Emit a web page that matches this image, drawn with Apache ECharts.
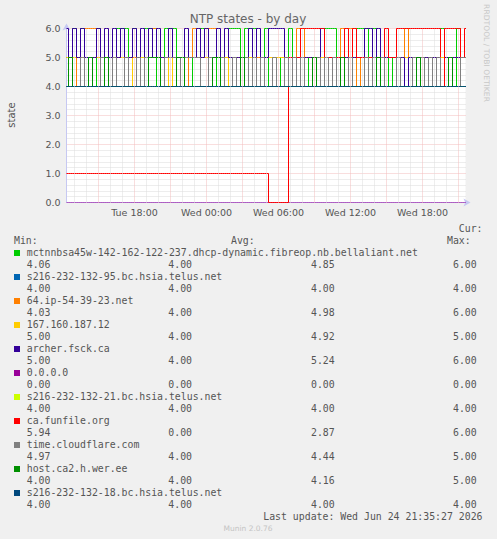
<!DOCTYPE html>
<html><head><meta charset="utf-8">
<script src="https://cdn.jsdelivr.net/npm/echarts@6/dist/echarts.min.js"></script>
<style>html,body{margin:0;padding:0;background:#f0f0f0}#c{width:497px;height:539px}</style>
</head><body><div id="c"></div>
<script>
// ---- time grid (hours since Tue 00:00), one sample every 20 minutes from Tue 12:20 ----
const times = [];
for (let i = 0; i <= 100; i++) times.push(12 + 1/3 + i/3);
const X_MIN = 12 + 1/3;            // Tue 12:20
const X_MAX = 12 + 1/3 + 33.25;    // Wed 21:35
const labelHours = [18, 24, 30, 36, 42];
const minorHours = [13,14,16,17,19,20,22,23,25,26,28,29,31,32,34,35,37,38,40,41,43,44];
const majorHours = [15,18,21,24,27,30,33,36,39,42,45];

// ---- series values (state) ----
const mctnnbsa = [
 5,4,6,4,6,4,5,4,6,5, 4,4,4,6,6,6,5,6,4,5, 6,6,6,4,5,6,6,6,4,5, 4,5,4,4,6,6,4,5,4,5,
 4,6,6,6,4,6,6,6,4,4, 6,4,5,4,5,4,6,4,5,4, 4,5,4,5,4,6,6,6,4,4, 4,5,4,6,6,6,4,6,4,4,
 5,4,5,4,5,4,4,4,5,4, 4,5,4,5,6,4,4,4,6,4, 4];
const s216_95 = [
 4,4,4,4,4,4,4,4,4,4, 4,4,4,4,4,4,4,4,4,4, 4,4,4,4,4,4,4,4,4,4, 4,4,4,4,4,4,4,4,4,4,
 4,4,4,4,4,4,4,4,4,4, 4,4,4,4,4,4,4,4,4,4, 4,4,4,4,4,4,4,4,4,4, 4,4,4,4,4,4,4,4,4,4,
 4,4,4,4,4,4,4,4,4,4, 4,4,4,4,4,4,4,4,4,4, 4];
const ip64 = [
 5,5,4,5,5,6,6,6,5,5, 4,5,5,5,5,4,5,5,5,4, 5,5,6,5,5,4,5,5,5,5, 4,5,6,6,5,6,6,6,5,4,
 5,5,5,5,4,5,5,5,5,4, 5,5,5,5,5,5,4,5,6,6, 5,5,5,4,5,5,5,5,4,6, 6,6,6,4,5,5,5,5,5,4,
 5,5,5,5,4,6,5,5,5,5, 5,4,5,5,5,5,5,5,5,4, 4];
const ip167 = [
 5,5,5,5,5,4,5,5,5,5, 5,4,5,5,5,5,5,4,5,5, 5,5,5,5,5,5,4,5,5,5, 5,5,5,5,5,5,5,5,5,5,
 5,4,5,5,5,5,5,5,4,5, 5,5,5,5,5,5,5,5,5,4, 5,5,5,5,5,5,5,5,5,5, 5,5,5,5,5,5,5,5,5,5,
 5,5,5,5,5,5,4,5,5,5, 5,5,5,5,5,5,5,5,5,5, 5];
const archer = [
 6,5,6,5,6,5,5,5,6,5, 6,5,6,5,6,5,5,6,5,6, 5,6,5,6,5,5,6,5,5,4, 6,5,5,6,5,6,5,5,6,5,
 6,5,5,5,5,5,6,5,6,5, 5,6,6,6,6,5,5,5,5,5, 5,5,5,5,6,5,5,5,5,5, 5,5,5,5,5,6,6,5,6,5,
 5,5,5,5,5,4,5,5,5,5, 5,5,5,5,4,5,5,5,5,5, 5];
const zeroHost = [
 0,0,0,0,0,0,0,0,0,0, 0,0,0,0,0,0,0,0,0,0, 0,0,0,0,0,0,0,0,0,0, 0,0,0,0,0,0,0,0,0,0,
 0,0,0,0,0,0,0,0,0,0, 0,0,0,0,0,0,0,0,0,0, 0,0,0,0,0,0,0,0,0,0, 0,0,0,0,0,0,0,0,0,0,
 0,0,0,0,0,0,0,0,0,0, 0,0,0,0,0,0,0,0,0,0, 0];
const s216_21 = [
 4,4,4,4,4,4,4,4,4,4, 4,4,4,4,4,4,4,4,4,4, 4,4,4,4,4,4,4,4,4,4, 4,4,4,4,4,4,4,4,4,4,
 4,4,4,4,4,4,4,4,4,4, 4,4,4,4,4,4,4,4,4,4, 4,4,4,4,4,4,4,4,4,4, 4,4,4,4,4,4,4,4,4,4,
 4,4,4,4,4,4,4,4,4,4, 4,4,4,4,4,4,4,4,4,4, 4];
const funfile = [
 1,1,1,1,1,1,1,1,1,1, 1,1,1,1,1,1,1,1,1,1, 1,1,1,1,1,1,1,1,1,1, 1,1,1,1,1,1,1,1,1,1,
 1,1,1,1,1,1,1,1,1,1, 1,0,0,0,0,0,5,5,5,6, 6,6,6,6,6,5,5,4,5,5, 6,5,6,5,5,5,5,4,5,5,
 6,5,5,6,6,6,6,6,6,6, 6,6,6,6,4,6,6,6,6,5, 6];
const cloudflare = [
 4,5,4,4,5,4,5,4,4,5, 4,4,5,4,4,5,4,4,5,4, 5,5,5,5,4,5,5,5,4,5, 5,5,5,5,4,4,5,4,4,5,
 4,4,5,4,4,5,4,5,4,5, 4,4,5,4,4,5,4,5,4,5, 4,4,4,5,4,5,4,5,4,4, 4,5,4,4,4,5,4,5,4,5,
 4,4,4,5,4,4,4,5,4,5, 4,5,4,5,4,4,5,4,4,5, 5];
const hostca2 = [
 4,5,4,4,4,4,5,4,4,4, 5,4,4,4,4,4,4,4,4,4, 4,5,5,5,4,4,4,4,5,5, 4,4,4,4,4,4,4,5,5,4,
 4,4,4,4,5,4,4,4,4,4, 4,4,4,4,4,4,4,4,4,4, 4,4,5,4,4,4,4,4,4,5, 4,4,4,4,4,4,4,4,5,4,
 4,4,4,4,4,4,4,4,5,4, 4,4,4,4,4,4,5,4,4,4, 4];
const s216_18 = [
 4,4,4,4,4,4,4,4,4,4, 4,4,4,4,4,4,4,4,4,4, 4,4,4,4,4,4,4,4,4,4, 4,4,4,4,4,4,4,4,4,4,
 4,4,4,4,4,4,4,4,4,4, 4,4,4,4,4,4,4,4,4,4, 4,4,4,4,4,4,4,4,4,4, 4,4,4,4,4,4,4,4,4,4,
 4,4,4,4,4,4,4,4,4,4, 4,4,4,4,4,4,4,4,4,4, 4];

// ---- legend ----
const names = [
 'mctnnbsa45w-142-162-122-237.dhcp-dynamic.fibreop.nb.bellaliant.net',
 's216-232-132-95.bc.hsia.telus.net', '64.ip-54-39-23.net', '167.160.187.12',
 'archer.fsck.ca', '0.0.0.0', 's216-232-132-21.bc.hsia.telus.net', 'ca.funfile.org',
 'time.cloudflare.com', 'host.ca2.h.wer.ee', 's216-232-132-18.bc.hsia.telus.net'];
const colors = ['#00CC00','#0066B3','#FF8000','#FFCC00','#330099','#990099','#CCFF00','#FF0000','#808080','#008F00','#00487D'];
const curVals = [4.06, 4.00, 4.03, 5.00, 5.00, 0.00, 4.00, 5.94, 4.97, 4.00, 4.00];
const minVals = [4.00, 4.00, 4.00, 4.00, 4.00, 0.00, 4.00, 0.00, 4.00, 4.00, 4.00];
const avgVals = [4.85, 4.00, 4.98, 4.92, 5.24, 0.00, 4.00, 2.87, 4.44, 4.16, 4.00];
const maxVals = [6.00, 4.00, 6.00, 5.00, 6.00, 0.00, 4.00, 6.00, 5.00, 5.00, 4.00];
const values = [mctnnbsa, s216_95, ip64, ip167, archer, zeroHost, s216_21, funfile, cloudflare, hostca2, s216_18];

const SANS = '"DejaVu Sans", sans-serif';
const MONO = '9.85px "DejaVu Sans Mono", monospace';
const TXT = '#555555';

function fmtHour(h) {
  const day = h < 24 ? 'Tue' : 'Wed';
  const hh = ((h % 24) + '').padStart(2, '0');
  return day + ' ' + hh + ':00';
}

const chart = echarts.init(document.getElementById('c'), null, {renderer: 'svg'});

// invisible carrier series for the vertical (time) grid lines
const series = [{
  type: 'line', name: '_grid', z: 1, silent: true, animation: false,
  showSymbol: false, symbol: 'none',
  lineStyle: {opacity: 0, width: 0},
  data: times.map((t, i) => [t, zeroHost[i]]),
  markLine: {
    silent: true, symbol: ['none', 'none'], label: {show: false}, animation: false,
    emphasis: {disabled: true},
    data: minorHours.map(h => ({xAxis: h, lineStyle: {color: '#dcdcdc', type: [1, 1], width: 1}}))
      .concat(majorHours.map(h => ({xAxis: h, lineStyle: {color: '#f3bcbc', type: [1, 1], width: 1}})))
  }
}];
values.forEach((arr, k) => {
  series.push({
    type: 'line', name: names[k], showSymbol: false, symbol: 'none', clip: false,
    step: 'middle',
    animation: false, silent: true, z: 2,
    lineStyle: {color: colors[k], width: 1, opacity: k === 5 ? 0.55 : 1},
    itemStyle: {color: colors[k]},
    data: times.map((t, i) => [t, arr[i]])
  });
});

const g = [];
function text(x, y, s, opt) {
  opt = opt || {};
  g.push({
    type: 'text', x: x, y: y, rotation: opt.rotation || 0, silent: true,
    style: {text: s, font: opt.font || MONO, fill: opt.fill || TXT,
      textAlign: opt.align || 'left', textVerticalAlign: 'middle',
      align: opt.align || 'left', verticalAlign: 'middle'}
  });
}
text(248, 19, 'NTP states - by day', {font: '12px ' + SANS, align: 'center', fill: '#666'});
text(11, 115, 'state', {font: '10px ' + SANS, align: 'center', rotation: Math.PI / 2});
text(486, 53, 'RRDTOOL / TOBI OETIKER', {font: '7.6px ' + SANS, align: 'center', rotation: -Math.PI / 2, fill: '#c8c8c8'});
text(482.5, 228, 'Cur:', {align: 'right'});
text(14, 240, 'Min:');
text(231, 240, 'Avg:');
text(447, 240, 'Max:');
names.forEach((n, k) => {
  const yn = 252 + 24 * k, yv = yn + 12;
  g.push({type: 'rect', silent: true, shape: {x: 14, y: yn - 2, width: 6, height: 6}, style: {fill: colors[k]}});
  text(26.7, yn, n);
  text(26.7, yv, curVals[k].toFixed(2));
  text(168.3, yv, minVals[k].toFixed(2));
  text(311, yv, avgVals[k].toFixed(2));
  text(453, yv, maxVals[k].toFixed(2));
});
text(482.5, 516, 'Last update: Wed Jun 24 21:35:27 2026', {align: 'right'});
text(248, 528, 'Munin 2.0.76', {font: '7.5px ' + SANS, align: 'center', fill: '#c4c4c4'});

const axisLineColor = '#c6c8f2';
chart.setOption({
  animation: false,
  backgroundColor: '#f0f0f0',
  grid: {left: 66.5, top: 28.5, width: 399, height: 174, show: true, backgroundColor: '#ffffff', borderWidth: 0},
  xAxis: {
    type: 'value', min: X_MIN, max: X_MAX,
    splitLine: {show: false},
    axisLine: {show: true, onZero: true, lineStyle: {color: axisLineColor, width: 1},
      symbol: ['none', 'arrow'], symbolSize: [6, 7], symbolOffset: [0, 5]},
    axisTick: {show: false},
    axisLabel: {customValues: labelHours, formatter: fmtHour, fontFamily: SANS, fontSize: 9.5, color: TXT, margin: 5}
  },
  yAxis: {
    type: 'value', min: 0, max: 6, interval: 1,
    axisLine: {show: true, lineStyle: {color: axisLineColor, width: 1},
      symbol: ['none', 'arrow'], symbolSize: [6, 7], symbolOffset: [0, 5]},
    axisTick: {show: false},
    axisLabel: {formatter: v => v.toFixed(1), fontFamily: SANS, fontSize: 9.5, color: TXT, margin: 6},
    splitLine: {show: true, lineStyle: {color: '#f3bcbc', type: [1, 1], width: 1}},
    minorTick: {show: false, splitNumber: 5},
    minorSplitLine: {show: true, lineStyle: {color: '#dadada', type: [1, 1], width: 1}}
  },
  series: series,
  graphic: g
});
</script></body></html>
